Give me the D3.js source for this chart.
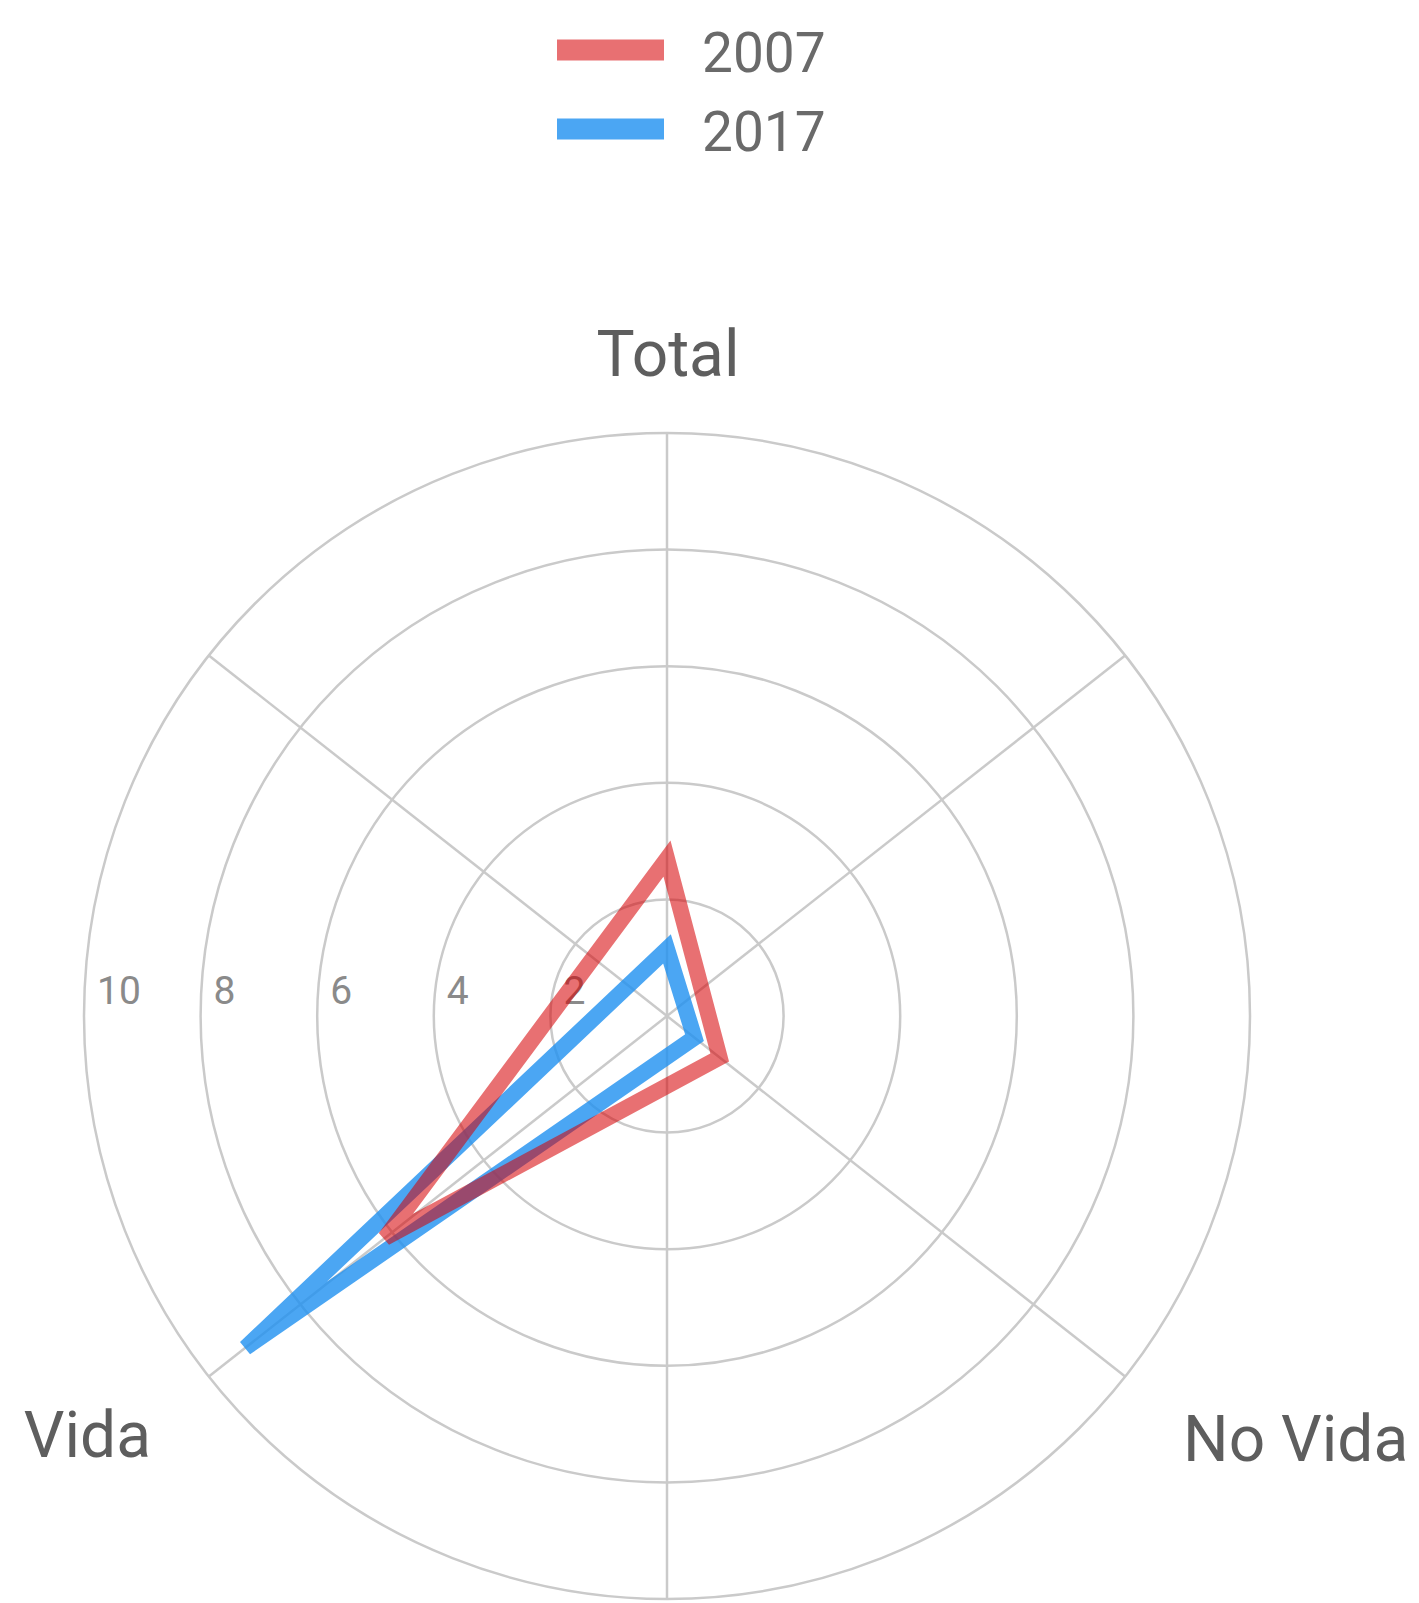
<!DOCTYPE html>
<html>
<head>
<meta charset="utf-8">
<script src="https://cdn.jsdelivr.net/npm/d3@7"></script>
<style>
  html, body { margin: 0; padding: 0; background: #fff; }
  svg { display: block; }
  text { font-family: Roboto, "Noto Sans", sans-serif; }
</style>
</head>
<body>
<svg id="chart" width="1419" height="1603"></svg>
<script>
// Radar data: one value per axis for each year
const axes = ["Total", "No Vida", "Vida"];
const seriesNames = ["2007", "2017"];
const values2007 = [2.7, 1.15, 6.15];
const values2017 = [1.15, 0.6, 9.2];
const tickValues = [2, 4, 6, 8, 10];

// Layout
const W = 1419, H = 1603;
const cx = 667, cy = 1016, R = 583;
const axisAngleDeg = [0, 128.2, 231.8];
const rad = d => d * Math.PI / 180;

const colors = {
  "2007": "rgba(214,0,4,0.56)",
  "2017": "rgba(30,144,240,0.8)"
};

const svg = d3.select("#chart");
const r = d3.scaleLinear().domain([0, 10]).range([0, R]);

const g = svg.append("g").attr("transform", `translate(${cx},${cy})`);

// Concentric rings
g.append("g").selectAll("circle")
  .data(tickValues)
  .join("circle")
  .attr("r", d => r(d))
  .attr("fill", "none")
  .attr("stroke", "#cacaca")
  .attr("stroke-width", 2.5);

// Spokes: each axis drawn as a full diameter through the centre
g.append("g").selectAll("line")
  .data(axisAngleDeg)
  .join("line")
  .attr("x1", a => -Math.sin(rad(a)) * r(10))
  .attr("y1", a => Math.cos(rad(a)) * r(10))
  .attr("x2", a => Math.sin(rad(a)) * r(10))
  .attr("y2", a => -Math.cos(rad(a)) * r(10))
  .attr("stroke", "#cacaca")
  .attr("stroke-width", 2.5);

// Tick labels along the left horizontal, just inside each ring
g.append("g").selectAll("text")
  .data(tickValues)
  .join("text")
  .attr("x", d => -r(d) + 13)
  .attr("y", -12)
  .attr("font-size", 39)
  .attr("fill", "#8a8a8a")
  .text(d => d);

// Series polygons
const radial = d3.lineRadial()
  .angle((d, i) => rad(axisAngleDeg[i]))
  .radius(d => r(d))
  .curve(d3.curveLinearClosed);

const seriesData = [
  { name: "2017", values: values2017 },
  { name: "2007", values: values2007 }
];

g.append("g").selectAll("path")
  .data(seriesData)
  .join("path")
  .attr("d", d => radial(d.values))
  .attr("fill", "none")
  .attr("stroke", d => colors[d.name])
  .attr("stroke-width", 16)
  .attr("stroke-linejoin", "miter");

// Axis labels
const labelPos = [
  { x: 1, y: -640, anchor: "middle" },
  { x: 516, y: 445, anchor: "start" },
  { x: -516, y: 441, anchor: "end" }
];
g.append("g").selectAll("text")
  .data(axes)
  .join("text")
  .attr("x", (d, i) => labelPos[i].x)
  .attr("y", (d, i) => labelPos[i].y)
  .attr("text-anchor", (d, i) => labelPos[i].anchor)
  .attr("font-size", 64)
  .attr("fill", "#5e5e5e")
  .text(d => d);

// Legend
const legend = svg.append("g").attr("transform", "translate(557,0)");
const legendRows = legend.selectAll("g")
  .data(seriesNames)
  .join("g")
  .attr("transform", (d, i) => `translate(0,${50 + i * 79})`);
legendRows.append("line")
  .attr("x1", 0).attr("x2", 107)
  .attr("stroke", d => colors[d])
  .attr("stroke-width", 21);
legendRows.append("text")
  .attr("x", 145)
  .attr("y", 22)
  .attr("font-size", 55)
  .attr("fill", "#6a6a6a")
  .text(d => d);
</script>
</body>
</html>
